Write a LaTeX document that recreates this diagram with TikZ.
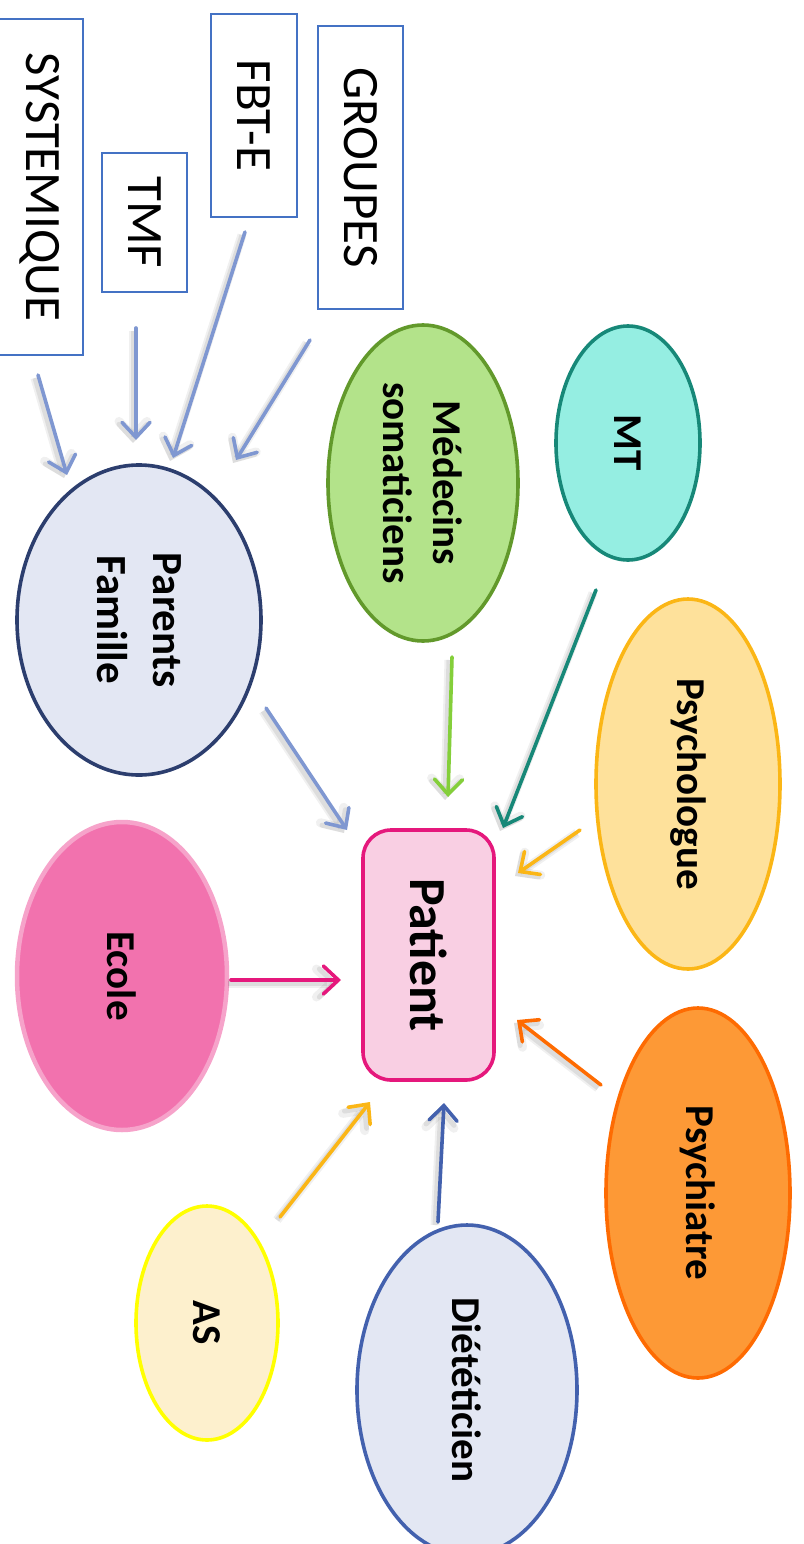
\documentclass[tikz,border=0pt]{standalone}
\usepackage{fontspec}
\setmainfont{Carlito}
\usetikzlibrary{arrows.meta,shapes.geometric}

\definecolor{boxblue}{HTML}{4472C4}
\definecolor{lightblue}{HTML}{7F97D1}
\definecolor{famfill}{HTML}{E3E7F3}
\definecolor{famline}{HTML}{2C3E6E}
\definecolor{medfill}{HTML}{B3E38A}
\definecolor{medline}{HTML}{62992B}
\definecolor{medarrow}{HTML}{84CF3A}
\definecolor{mtfill}{HTML}{95EEE2}
\definecolor{mtline}{HTML}{178878}
\definecolor{psyfill}{HTML}{FEE19B}
\definecolor{psyline}{HTML}{FBB616}
\definecolor{chifill}{HTML}{FD9936}
\definecolor{chiline}{HTML}{FE6B02}
\definecolor{dietline}{HTML}{4361AE}
\definecolor{asfill}{HTML}{FDF0CD}
\definecolor{asline}{HTML}{FFFF00}
\definecolor{ecofill}{HTML}{F272AE}
\definecolor{ecoline}{HTML}{F6A3CA}
\definecolor{patfill}{HTML}{F9CFE3}
\definecolor{patline}{HTML}{E5187C}

\tikzset{
  tag/.style={draw=boxblue, line width=2pt, fill=white, rotate=-90,
    inner sep=0pt, font=\fontsize{51}{60}\selectfont},
  role/.style={ellipse, rotate=-90, inner sep=0pt, line width=3.6pt,
    align=center, font=\bfseries\fontsize{41}{52}\selectfont},
  link/.style={line width=3.6pt, line cap=round,
    -{Straight Barb[length=15pt,width=28pt,line cap=round]},
    preaction={draw=black, opacity=0.06, line width=9pt,
      transform canvas={shift={(-3pt,-3pt)}}},
    preaction={draw=black, opacity=0.08, line width=5pt,
      transform canvas={shift={(-3pt,-3pt)}}}}
}

\begin{document}
\begin{tikzpicture}[x=1pt,y=-1pt]
\useasboundingbox (0,0) rectangle (803,1544);
\clip (0,0) rectangle (803,1544);

% therapy approaches
\node[tag, minimum width=336pt, minimum height=87pt] (sys) at (39.5,187) {SYSTEMIQUE};
\node[tag, minimum width=139pt, minimum height=85pt] (tmf) at (144.5,222.5) {TMF};
\node[tag, minimum width=203pt, minimum height=86pt] (fbt) at (254,115.5) {FBT-E};
\node[tag, minimum width=283pt, minimum height=85pt] (grp) at (360.5,167.5) {GROUPES};

% care team around the patient
\node[role, fill=famfill, draw=famline, minimum width=310pt, minimum height=244pt,
  font=\bfseries\fontsize{43}{56}\selectfont] (fam) at (139,620) {Parents\\Famille};
\node[role, fill=medfill, draw=medline, minimum width=316pt, minimum height=190pt,
  font=\bfseries\fontsize{41}{50}\selectfont] (med) at (423,483) {Médecins\\somaticiens};
\node[role, fill=mtfill, draw=mtline, minimum width=234pt, minimum height=144pt] (mt) at (628,443) {MT};
\node[role, fill=psyfill, draw=psyline, minimum width=370pt, minimum height=184pt] (psy) at (688,784) {Psychologue};
\node[role, fill=chifill, draw=chiline, minimum width=370pt, minimum height=184pt] (chi) at (698,1193) {Psychiatre};
\node[role, fill=famfill, draw=dietline, minimum width=330pt, minimum height=220pt] (diet) at (467,1390) {Diététicien};
\node[role, fill=asfill, draw=asline, minimum width=234pt, minimum height=142pt] (as) at (207,1323) {AS};
\node[role, fill=ecofill, draw=ecoline, line width=4.5pt, minimum width=308pt, minimum height=210pt] (eco) at (122,976) {Ecole};

\node[rotate=-90, rounded corners=28pt, fill=patfill, draw=patline, line width=3.6pt,
  minimum width=250pt, minimum height=131pt, inner sep=0pt,
  font=\bfseries\fontsize{52}{60}\selectfont] (pat) at (428.5,955) {Patient};

% connector ends
\coordinate (sysOut) at (38,375);   \coordinate (famInA) at (67,475);
\coordinate (tmfOut) at (136,328);  \coordinate (famInB) at (136,440);
\coordinate (fbtOut) at (245,232);  \coordinate (famInC) at (173,458);
\coordinate (grpOut) at (310,340);  \coordinate (famInD) at (236,460);
\coordinate (famOut) at (266,708);  \coordinate (patA) at (347,830);
\coordinate (medOut) at (452,657);  \coordinate (patB) at (448,797);
\coordinate (mtOut) at (596,590);   \coordinate (patC) at (503,828);
\coordinate (psyOut) at (580,830);  \coordinate (patD) at (518,873);
\coordinate (chiOut) at (601,1085); \coordinate (patE) at (517,1020);
\coordinate (dietOut) at (438,1222);\coordinate (patF) at (444,1103);
\coordinate (asOut) at (280,1217);  \coordinate (patG) at (370,1102);
\coordinate (ecoOut) at (231,980);  \coordinate (patH) at (341,980);

% connectors
\draw[link, lightblue] (sysOut) -- (famInA);
\draw[link, lightblue] (tmfOut) -- (famInB);
\draw[link, lightblue] (fbtOut) -- (famInC);
\draw[link, lightblue] (grpOut) -- (famInD);
\draw[link, lightblue] (famOut) -- (patA);
\draw[link, medarrow] (medOut) -- (patB);
\draw[link, mtline] (mtOut) -- (patC);
\draw[link, psyline] (psyOut) -- (patD);
\draw[link, chiline] (chiOut) -- (patE);
\draw[link, dietline] (dietOut) -- (patF);
\draw[link, psyline] (asOut) -- (patG);
\draw[link, patline] (ecoOut) -- (patH);
\end{tikzpicture}
\end{document}
